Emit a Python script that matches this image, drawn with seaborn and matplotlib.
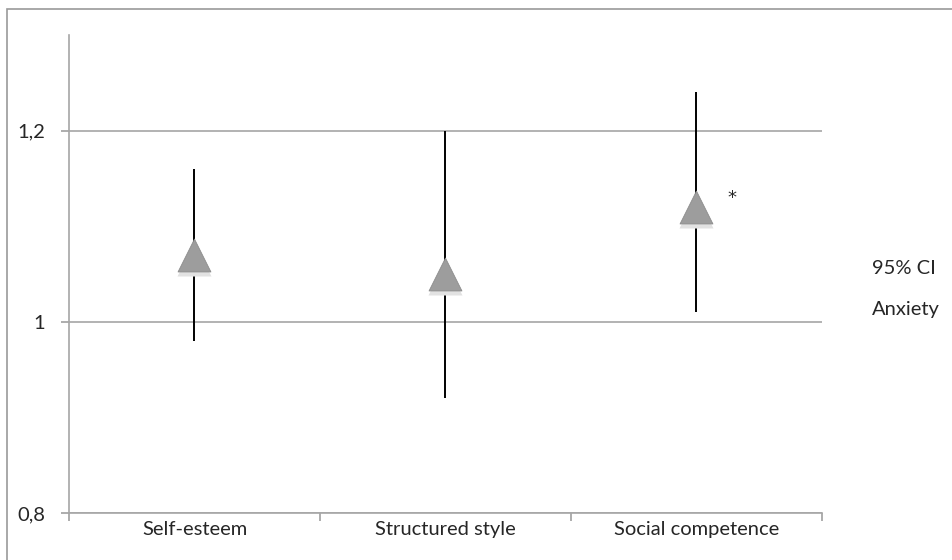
import matplotlib
matplotlib.use("Agg")
import matplotlib.pyplot as plt
import pandas as pd
import seaborn as sns
from matplotlib.patches import Rectangle

categories = ["Self-esteem", "Structured style", "Social competence"]
anxiety = [1.07, 1.05, 1.12]
ci_low = [0.98, 0.92, 1.01]
ci_high = [1.16, 1.20, 1.24]
y_ticks = [0.8, 1.0, 1.2]
y_tick_labels = ["0,8", "1", "1,2"]
legend_labels = ["95% CI", "Anxiety"]

df = pd.DataFrame(
    {"Category": categories, "Anxiety": anxiety, "Low": ci_low, "High": ci_high}
)

sns.set_style("white")
plt.rcParams["font.family"] = ["Lato", "DejaVu Sans"]
FS = 14.5

fig = plt.figure(figsize=(9.53, 5.6), dpi=100)
ax = fig.add_axes([69 / 953, 47 / 560, 753 / 953, 478 / 560])

# outer chart frame
fig.patches.append(
    Rectangle((7 / 953, -0.1), 1.2, (551 + 56) / 560, transform=fig.transFigure,
              fill=False, edgecolor="#9a9a9a", linewidth=1.2, zorder=0)
)

ax.vlines(x=range(len(df)), ymin=df["Low"], ymax=df["High"], color="black",
          linewidth=1.4, zorder=2)

# soft shadow under the triangles
ax.scatter(x=list(range(len(df))), y=[v - 0.004 for v in df["Anxiety"]],
           marker="^", s=600, color="#e2e2e2", linewidth=0, zorder=2.5)
sns.scatterplot(data=df, x="Category", y="Anxiety", marker="^", s=560,
                color="#9d9d9d", edgecolor="#8c8c8c", linewidth=0.6, ax=ax,
                zorder=3)

ax.text(2.14, 1.13, "*", fontsize=13, family="DejaVu Sans", ha="center",
        va="center")

ax.set_xlim(-0.5, 2.5)
ax.set_ylim(0.8, 1.3)
ax.set_yticks(y_ticks)
ax.set_yticklabels(y_tick_labels)
ax.set_xticks(range(len(categories)))
ax.set_xticklabels(categories)
ax.set_xticks([-0.5, 0.5, 1.5, 2.5], minor=True)
ax.tick_params(axis="x", which="major", length=0, labelsize=FS, pad=6)
ax.tick_params(axis="x", which="minor", length=6, width=1.2, color="#a0a0a0",
               direction="out", bottom=True)
ax.tick_params(axis="y", length=6, width=1.2, color="#a0a0a0", labelsize=FS,
               direction="out", left=True, pad=11)
ax.set_xlabel("")
ax.set_ylabel("")

ax.grid(axis="y", color="#a6a6a6", linewidth=1.2)
ax.set_axisbelow(True)
for side in ["top", "right"]:
    ax.spines[side].set_visible(False)
for side in ["left", "bottom"]:
    ax.spines[side].set_color("#a6a6a6")
    ax.spines[side].set_linewidth(1.2)

fig.text(872 / 953, 1 - 268 / 560, legend_labels[0], fontsize=FS, va="center")
fig.text(872 / 953, 1 - 310 / 560, legend_labels[1], fontsize=FS, va="center")

fig.savefig("out.png", dpi=100)
